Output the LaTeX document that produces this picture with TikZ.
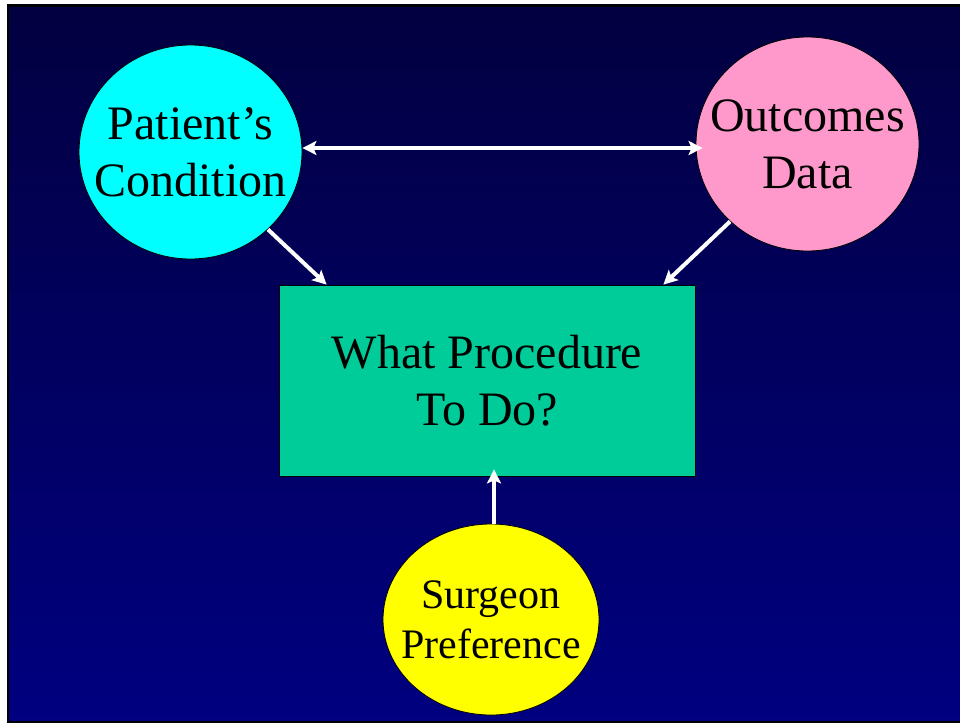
\documentclass[tikz,border=0pt]{standalone}
\usepackage{fontspec}
\setmainfont{Liberation Serif}
\usetikzlibrary{arrows.meta, shapes.geometric}
\definecolor{slidetop}{RGB}{2,0,64}
\definecolor{slidebottom}{RGB}{0,0,128}
\definecolor{aqua}{RGB}{0,255,255}
\definecolor{rose}{RGB}{255,153,204}
\definecolor{lemon}{RGB}{255,255,0}
\definecolor{jade}{RGB}{0,204,153}

\begin{document}
\begin{tikzpicture}[x=1pt, y=-1pt, >={Stealth[length=14pt, width=14pt, inset=3pt]},
  slidetext/.style={align=center, font=\fontsize{48}{57}\selectfont},
  bubble/.style={ellipse, draw=black, line width=0.8pt, inner sep=-25pt, slidetext},
  flow/.style={draw=white, line width=4pt}]
  \useasboundingbox (0,0) rectangle (960,723);
  \fill[white] (0,0) rectangle (960,723);
  \fill[black] (7,4) rectangle (960,723);
  \shade[top color=slidetop, bottom color=slidebottom] (9,7) rectangle (960,720);
  \node[bubble, fill=aqua, minimum width=223pt, minimum height=214pt] (pc) at (190.5,152) {Patient's\\Condition};
  \node[bubble, fill=rose, minimum width=223pt, minimum height=214pt] (od) at (807.5,144) {Outcomes\\Data};
  \node[draw=black, line width=0.8pt, fill=jade, minimum width=416pt, minimum height=191pt, slidetext] (task) at (487,380.5) {What Procedure\\To Do?};
  \node[bubble, fill=lemon, minimum width=216pt, minimum height=191pt, font=\fontsize{42}{50}\selectfont] (sp) at (491,619.5) {Surgeon\\Preference};
  \draw[flow, <->, shorten >=-7pt] ([yshift=4pt]pc.east) -- ([yshift=-4pt]od.west);
  \draw[flow, ->] (pc.-45) -- ([xshift=48pt]task.north west);
  \draw[flow, ->] (od.-135) -- ([xshift=-32pt]task.north east);
  \draw[flow, ->, shorten >=-7pt] ([xshift=3pt]sp.north) -- ([xshift=7pt]task.south);
\end{tikzpicture}
\end{document}
